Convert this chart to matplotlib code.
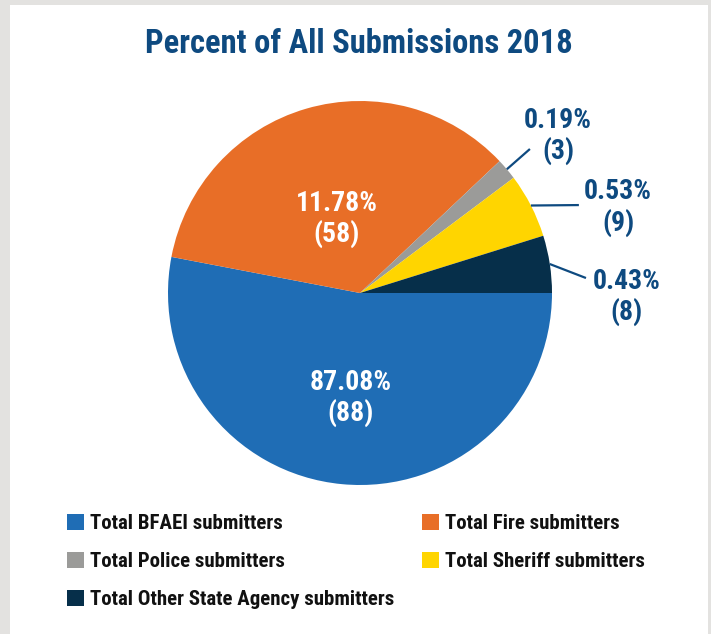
import matplotlib
matplotlib.use("Agg")
import matplotlib.pyplot as plt
from matplotlib import font_manager
from matplotlib.patches import Patch, Rectangle
import numpy as np

# submissions by agency type, 2018
categories = ["Total BFAEI submitters", "Total Fire submitters", "Total Police submitters",
              "Total Sheriff submitters", "Total Other State Agency submitters"]
counts = [88, 58, 3, 9, 8]
pct_labels = ["87.08%", "11.78%", "0.19%", "0.53%", "0.43%"]
colors = ["#1f6db5", "#e86e27", "#9b9b99", "#ffd500", "#062f4a"]

NAVY = "#0e4a80"

# pick a narrow face if one is installed
installed = {f.name for f in font_manager.fontManager.ttflist}
family = "DejaVu Sans"
for cand in ["Liberation Sans Narrow", "DejaVu Sans Condensed", "Roboto Condensed", "Liberation Sans"]:
    if cand in installed:
        family = cand
        break
plt.rcParams["font.family"] = [family, "DejaVu Sans"]
plt.rcParams["font.weight"] = "bold"

W, H = 711, 634
fig = plt.figure(figsize=(W / 100, H / 100), dpi=100, facecolor="#e3e2e0")
fig.patches.append(Rectangle((10 / W, 0), 698 / W, 1 - 5 / H, transform=fig.transFigure,
                             facecolor="white", edgecolor="none", zorder=-5))

# pie axes: centre (360, 293) px, radius 192 px
cx, cy, r = 360, 293, 192
ax = fig.add_axes([(cx - r) / W, (H - cy - r) / H, 2 * r / W, 2 * r / H])
ax.set_zorder(2)
wedges, _ = ax.pie(counts, colors=colors, startangle=0, counterclock=False, radius=1,
                   wedgeprops=dict(linewidth=0))
ax.set_xlim(-1, 1)
ax.set_ylim(-1, 1)
ax.set_aspect("equal")
ax.axis("off")

fig.text(0.505, 1 - 44 / H, "Percent of All Submissions 2018", ha="center", va="center",
         fontsize=23.5, color=NAVY, fontweight="bold")

# labels inside the two big slices
inside = {0: (-0.047, -0.547), 1: (-0.12, 0.385)}
for i, (x, y) in inside.items():
    ax.text(x, y, f"{pct_labels[i]}\n({counts[i]})", ha="center", va="center",
            fontsize=20, color="white", linespacing=1.15)

# small slices get a leader line out to the label
outside = {2: ((0.885, 0.75), (1.031, 0.818)),
           3: ((1.14, 0.458), (1.344, 0.445)),
           4: ((1.177, 0.078), (1.39, -0.021))}
for i, (end, txt) in outside.items():
    w = wedges[i]
    ang = np.deg2rad((w.theta1 + w.theta2) / 2)
    ax.plot([np.cos(ang), end[0]], [np.sin(ang), end[1]], color=NAVY, lw=1.6,
            clip_on=False, solid_capstyle="butt")
    ax.text(txt[0], txt[1], f"{pct_labels[i]}\n({counts[i]})", ha="center", va="center",
            fontsize=20, color=NAVY, linespacing=1.15)

# legend filled row by row
order = [0, 2, 4, 1, 3]
handles = [Patch(facecolor=colors[i], edgecolor="none") for i in order]
fig.legend(handles, [categories[i] for i in order], ncol=2, frameon=False,
           loc="upper left", bbox_to_anchor=(67 / W, 1 - 514 / H), borderpad=0,
           borderaxespad=0, fontsize=15, handlelength=0.8, handleheight=0.8,
           handletextpad=0.3, labelspacing=0.9, columnspacing=1.35, labelcolor="#111111")

fig.savefig("out.png", dpi=100, facecolor=fig.get_facecolor())
